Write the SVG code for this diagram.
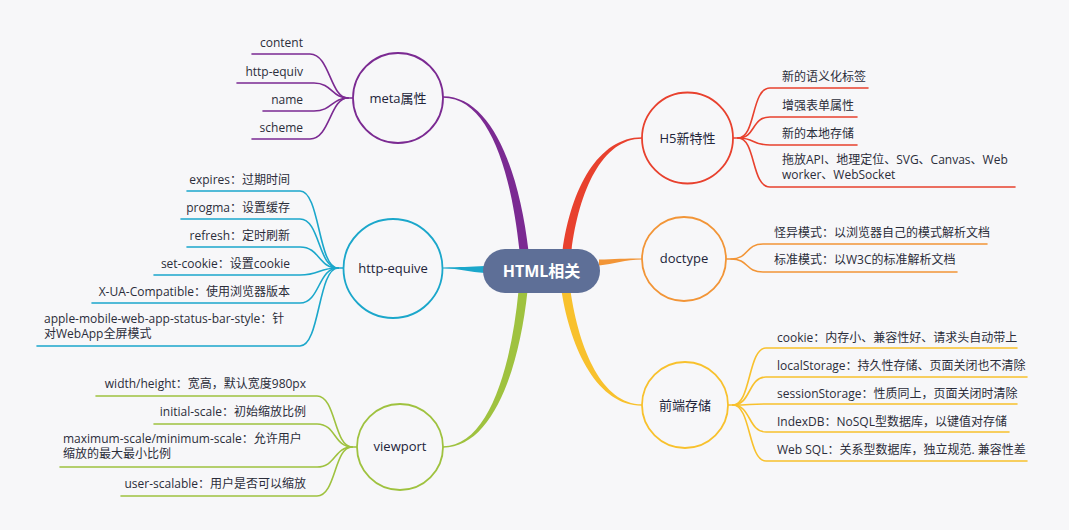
<svg xmlns="http://www.w3.org/2000/svg" width="1069" height="530" viewBox="0 0 1069 530">
<style>
.leaf{font-family:"Open Sans","Noto Sans CJK SC",sans-serif;font-size:12px;fill:#2b2d3a}
.lbl{font-family:"Open Sans","Noto Sans CJK SC",sans-serif;font-size:13px;fill:#22243a;text-anchor:middle}
.end{text-anchor:end}
.ln{fill:none;stroke-width:1.6;stroke-linecap:round}
.node{fill:#f7f7f9;stroke-width:1.8}
.purple{stroke:#7b2a92}.cyan{stroke:#1ba7cb}.green{stroke:#9fc23f}
.red{stroke:#e8412e}.orange{stroke:#f29537}.yellow{stroke:#f8c12d}
</style>
<rect width="1069" height="530" fill="#f7f7f9"/>
<g id="connectors">
  <!-- main branches -->
  <path d="M443 96.3 C491 96.3 519 169 528.5 251 L519.5 251 C511 171 489 97.7 443 97.7 Z" fill="#7b2a92"/>
  <path d="M642 137.3 C598 137.3 571 189 562.5 251 L571.5 251 C579 191 602 138.7 642 138.7 Z" fill="#e8412e"/>
  <path d="M443 267.4 C460 267.4 470 266.5 485 266 L485 273 C470 272.5 460 268.6 443 268.6 Z" fill="#1ba7cb"/>
  <path d="M642 258.4 C625 258.4 614 259 599 259.5 L599 265.5 C614 264.5 625 259.6 642 259.6 Z" fill="#f29537"/>
  <path d="M443 446.3 C488 446.3 511 369 518.5 291 L527.5 291 C519 371 492 447.7 443 447.7 Z" fill="#9fc23f"/>
  <path d="M642 404.3 C602 404.3 579 349 570.5 291 L561.5 291 C571 351 598 405.7 642 405.7 Z" fill="#f8c12d"/>
  <!-- meta leaves -->
  <g class="ln purple">
    <path d="M252 54 H310 C330 54 330 98 348 98 L353 98"/>
    <path d="M237 83 H314 C332 83 332 98 348 98"/>
    <path d="M263 111 H314 C332 111 332 98 348 98"/>
    <path d="M252 139 H310 C330 139 330 98 348 98"/>
  </g>
  <!-- http-equive leaves -->
  <g class="ln cyan">
    <path d="M187 191 H300 C320 191 318 268 338 268 L344 268"/>
    <path d="M181 219 H300 C320 219 318 268 338 268"/>
    <path d="M187 247 H300 C320 247 318 268 338 268"/>
    <path d="M154 275 H300 C320 275 318 268 338 268"/>
    <path d="M92 303 H300 C320 303 318 268 338 268"/>
    <path d="M37 346 H300 C320 346 318 268 338 268"/>
  </g>
  <!-- viewport leaves -->
  <g class="ln green">
    <path d="M96 396 H317 C336 396 334 447 352 447 L357 447"/>
    <path d="M154 424 H317 C336 424 334 447 352 447"/>
    <path d="M60 467 H317 C336 467 334 447 352 447"/>
    <path d="M121 496 H317 C336 496 334 447 352 447"/>
  </g>
  <!-- H5 leaves -->
  <g class="ln red">
    <path d="M733 138 L738 138 C756 138 751 88 770 88 H868"/>
    <path d="M738 138 C756 138 751 117 770 117 H857"/>
    <path d="M738 138 C756 138 751 145 770 145 H857"/>
    <path d="M738 138 C756 138 751 187 770 187 H1015"/>
  </g>
  <!-- doctype leaves -->
  <g class="ln orange">
    <path d="M726 259 L731 259 C749 259 745 244 763 244 H987"/>
    <path d="M731 259 C749 259 745 272 763 272 H957"/>
  </g>
  <!-- storage leaves -->
  <g class="ln yellow">
    <path d="M728 405 L733 405 C751 405 748 348 766 348 H1017"/>
    <path d="M733 405 C751 405 748 377 766 377 H1027"/>
    <path d="M733 405 C751 405 748 404 766 404 H1017"/>
    <path d="M733 405 C751 405 748 432 766 432 H1009"/>
    <path d="M733 405 C751 405 748 461 766 461 H1027"/>
  </g>
</g>
<g id="root">
  <rect x="483" y="249" width="117" height="44" rx="22" fill="#5e6f97"/>
  <text x="541.5" y="277" font-family="'Open Sans','Noto Sans CJK SC',sans-serif" font-size="16" font-weight="bold" fill="#ffffff" text-anchor="middle">HTML相关</text>
</g>
<g id="meta">
  <circle cx="398" cy="98" r="45" class="node purple"/>
  <text x="398" y="103" class="lbl">meta属性</text>
  <text x="303" y="47" class="leaf end">content</text>
  <text x="303" y="76" class="leaf end">http-equiv</text>
  <text x="303" y="104" class="leaf end">name</text>
  <text x="303" y="132" class="leaf end">scheme</text>
</g>
<g id="http-equive">
  <circle cx="393" cy="268.5" r="49.5" class="node cyan"/>
  <text x="393" y="273" class="lbl">http-equive</text>
  <text x="290" y="184" class="leaf end">expires：过期时间</text>
  <text x="290" y="212" class="leaf end">progma：设置缓存</text>
  <text x="290" y="240" class="leaf end">refresh：定时刷新</text>
  <text x="290" y="268" class="leaf end">set-cookie：设置cookie</text>
  <text x="290" y="296" class="leaf end">X-UA-Compatible：使用浏览器版本</text>
  <text x="44" y="323" class="leaf">apple-mobile-web-app-status-bar-style：针</text>
  <text x="44" y="338" class="leaf">对WebApp全屏模式</text>
</g>
<g id="viewport">
  <circle cx="400" cy="447" r="43" class="node green"/>
  <text x="400" y="451" class="lbl">viewport</text>
  <text x="306" y="388" class="leaf end">width/height：宽高，默认宽度980px</text>
  <text x="306" y="416" class="leaf end">initial-scale：初始缩放比例</text>
  <text x="63" y="443" class="leaf">maximum-scale/minimum-scale：允许用户</text>
  <text x="63" y="458" class="leaf">缩放的最大最小比例</text>
  <text x="306" y="488" class="leaf end">user-scalable：用户是否可以缩放</text>
</g>
<g id="h5">
  <circle cx="687.5" cy="138" r="45.5" class="node red"/>
  <text x="687.5" y="143" class="lbl">H5新特性</text>
  <text x="782" y="81" class="leaf">新的语义化标签</text>
  <text x="782" y="110" class="leaf">增强表单属性</text>
  <text x="782" y="138" class="leaf">新的本地存储</text>
  <text x="782" y="164" class="leaf">拖放API、地理定位、SVG、Canvas、Web</text>
  <text x="782" y="179" class="leaf">worker、WebSocket</text>
</g>
<g id="doctype">
  <circle cx="684" cy="259" r="42" class="node orange"/>
  <text x="684" y="263" class="lbl">doctype</text>
  <text x="774" y="237" class="leaf">怪异模式：以浏览器自己的模式解析文档</text>
  <text x="774" y="264" class="leaf">标准模式：以W3C的标准解析文档</text>
</g>
<g id="storage">
  <circle cx="685" cy="405" r="43" class="node yellow"/>
  <text x="685" y="410" class="lbl">前端存储</text>
  <text x="777" y="342" class="leaf">cookie：内存小、兼容性好、请求头自动带上</text>
  <text x="777" y="370" class="leaf">localStorage：持久性存储、页面关闭也不清除</text>
  <text x="777" y="398" class="leaf">sessionStorage：性质同上，页面关闭时清除</text>
  <text x="777" y="426" class="leaf">IndexDB：NoSQL型数据库，以键值对存储</text>
  <text x="777" y="454" class="leaf">Web SQL：关系型数据库，独立规范. 兼容性差</text>
</g>
</svg>
